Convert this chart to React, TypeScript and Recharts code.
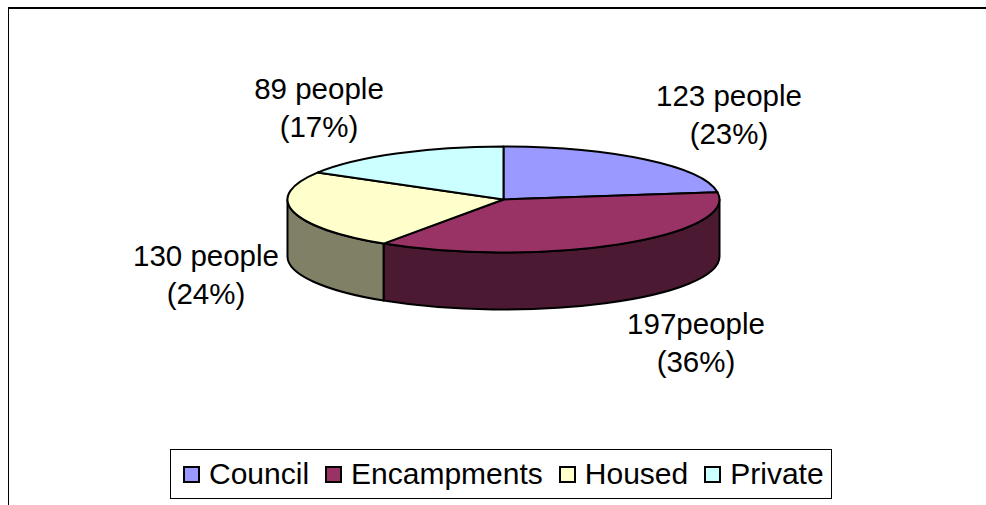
import { PieChart, Pie, Legend } from "recharts";

const categories = ["Council", "Encampments", "Housed", "Private"];
const values = [123, 197, 130, 89];
const labelTop = ["123 people", "197people", "130 people", "89 people"];
const labelBottom = ["(23%)", "(36%)", "(24%)", "(17%)"];
const topColors = ["#9999FF", "#993366", "#FFFFCC", "#CCFFFF"];
const sideColors = ["#4C4C80", "#4C1933", "#808066", "#668080"];

const data = categories.map((name, i) => ({ name, value: values[i], fill: topColors[i] }));

const WIDTH = 986;
const HEIGHT = 505;
const CX = 503.5;
const CY = 199.5;
const RX = 216;
const RY = 53;
const DEPTH = 57;
const FONT = '"Liberation Sans", Arial, sans-serif';

// label centres, same order as categories
const labelCentres = [
  [729, 96],
  [696, 324],
  [206, 256],
  [319, 89],
];

function point(cx: number, cy: number, rx: number, angle: number) {
  const rad = (angle * Math.PI) / 180;
  const ry = (rx * RY) / RX;
  return [cx + rx * Math.cos(rad), cy - ry * Math.sin(rad)];
}

// flat pie sector turned into a tilted one with a front wall
function TiltedSector(props: any) {
  const { cx, cy, outerRadius: rx, startAngle, endAngle, index, fill } = props;
  const ry = (rx * RY) / RX;
  const [sx, sy] = point(cx, cy, rx, startAngle);
  const [ex, ey] = point(cx, cy, rx, endAngle);
  const large = Math.abs(startAngle - endAngle) > 180 ? 1 : 0;

  // only the part between 0 and -180 degrees faces the viewer
  const from = Math.min(startAngle, 0);
  const to = Math.max(endAngle, -180);
  let wall = null;
  if (from > to) {
    const [ax, ay] = point(cx, cy, rx, from);
    const [bx, by] = point(cx, cy, rx, to);
    wall = (
      <path
        d={`M${ax},${ay} A${rx},${ry} 0 0 1 ${bx},${by} L${bx},${by + DEPTH} A${rx},${ry} 0 0 0 ${ax},${ay + DEPTH} Z`}
        fill={sideColors[index]}
        stroke="#000"
        strokeWidth={2}
        strokeLinejoin="round"
      />
    );
  }

  return (
    <g>
      {wall}
      <path
        d={`M${cx},${cy} L${sx},${sy} A${rx},${ry} 0 ${large} 1 ${ex},${ey} Z`}
        fill={fill}
        stroke="#000"
        strokeWidth={2}
        strokeLinejoin="round"
      />
    </g>
  );
}

function renderLabel(props: any) {
  const i = props.index;
  const [x, y] = labelCentres[i];
  return (
    <text x={x} y={y} textAnchor="middle" style={{ fontFamily: FONT, fontSize: 29.5 }} fill="#000">
      <tspan x={x} dy={10}>{labelTop[i]}</tspan>
      <tspan x={x} dy={38}>{labelBottom[i]}</tspan>
    </text>
  );
}

function renderLegend() {
  return (
    <div
      style={{
        boxSizing: "border-box",
        width: 662,
        height: 50,
        border: "1.5px solid #000",
        background: "#fff",
        display: "flex",
        alignItems: "center",
        paddingLeft: 12,
        fontFamily: FONT,
        fontSize: 30,
        color: "#000",
      }}
    >
      {categories.map((name, i) => (
        <div key={name} style={{ display: "flex", alignItems: "center", marginRight: 16 }}>
          <span
            style={{
              boxSizing: "border-box",
              width: 17,
              height: 17,
              border: "2px solid #000",
              background: topColors[i],
              marginRight: 9,
            }}
          />
          <span>{name}</span>
        </div>
      ))}
    </div>
  );
}

export default function App() {
  return (
    <div style={{ position: "absolute", left: 0, top: 0, width: WIDTH, height: HEIGHT, background: "#fff", overflow: "hidden" }}>
      <div style={{ position: "absolute", left: 8, top: 7, width: WIDTH, height: HEIGHT, borderTop: "2px solid #000", borderLeft: "1px solid #000" }} />
      <PieChart width={WIDTH} height={HEIGHT} margin={{ top: 0, right: 0, bottom: 0, left: 0 }} style={{ position: "absolute", left: 0, top: 0 }}>
        <Pie
          data={data}
          dataKey="value"
          nameKey="name"
          cx={CX}
          cy={CY}
          outerRadius={RX}
          startAngle={90}
          endAngle={-270}
          stroke="#000"
          shape={TiltedSector}
          label={renderLabel}
          labelLine={false}
          isAnimationActive={false}
        />
        <Legend content={renderLegend} wrapperStyle={{ left: 170, top: 449, bottom: "auto", width: 662, height: 50 }} />
      </PieChart>
    </div>
  );
}
